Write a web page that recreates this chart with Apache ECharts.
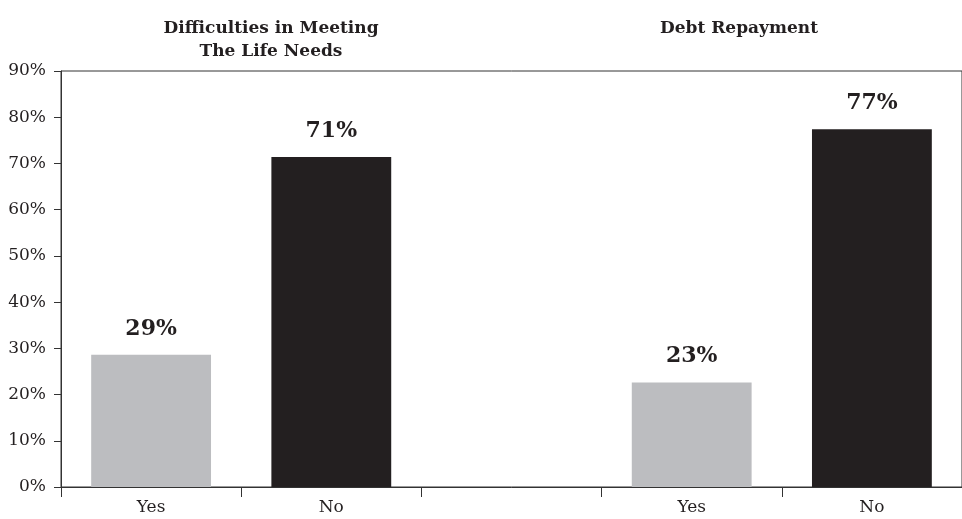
<!DOCTYPE html>
<html>
<head>
<meta charset="utf-8">
<script src="https://cdn.jsdelivr.net/npm/echarts@6/dist/echarts.min.js"></script>
<style>
  html, body { margin: 0; padding: 0; background: #fff; }
  #chart { width: 962px; height: 519px; }
</style>
</head>
<body>
<div id="chart"></div>
<script>
// categories (empty slot separates the two groups)
const categories = ['Yes', 'No', '', 'Yes', 'No']
// share of respondents, %
const shareValues = [28.6, 71.4, null, 22.6, 77.4]
const yTicks = [0, 10, 20, 30, 40, 50, 60, 70, 80, 90]
const groupTitles = ['Difficulties in Meeting\nThe Life Needs', 'Debt Repayment']

const ink = '#231f20'
const serif = '"DejaVu Serif", "Liberation Serif", serif'

const chart = echarts.init(document.getElementById('chart'))

const option = {
  animation: false,
  backgroundColor: '#fff',
  title: [
    { text: groupTitles[0], left: 266, top: 12, textAlign: 'center' },
    { text: groupTitles[1], left: 734, top: 12, textAlign: 'center' }
  ].map(t => ({
    ...t,
    textStyle: { fontFamily: serif, fontSize: 17, fontWeight: 'bold', color: ink, lineHeight: 23, align: 'center' }
  })),
  grid: {
    left: 61,
    right: -5,
    top: 71,
    bottom: 32,
    show: true,
    borderColor: '#333',
    borderWidth: 1,
    backgroundColor: 'transparent'
  },
  xAxis: {
    type: 'category',
    data: categories,
    axisLine: { lineStyle: { color: '#333', width: 1 } },
    axisTick: { show: true, length: 10, alignWithLabel: false, lineStyle: { color: '#333' } },
    axisLabel: { fontFamily: serif, fontSize: 17, color: ink, margin: 12 },
    splitLine: { show: false }
  },
  yAxis: {
    type: 'value',
    min: yTicks[0],
    max: yTicks[yTicks.length - 1],
    interval: 10,
    axisLine: { show: true, lineStyle: { color: '#333', width: 1 } },
    axisTick: { show: true, length: 7, lineStyle: { color: '#333' } },
    axisLabel: { fontFamily: serif, fontSize: 17, color: ink, margin: 15, formatter: '{value}%' },
    splitLine: { show: false }
  },
  series: [{
    type: 'bar',
    data: shareValues,
    barWidth: '66.5%',
    itemStyle: {
      color: p => (categories[p.dataIndex] === 'Yes' ? '#bcbdc0' : ink)
    },
    label: {
      show: true,
      position: 'top',
      distance: 15,
      fontFamily: serif,
      fontSize: 22,
      fontWeight: 'bold',
      color: ink,
      formatter: p => Math.round(p.value) + '%'
    }
  }]
}

chart.setOption(option)
</script>
</body>
</html>
